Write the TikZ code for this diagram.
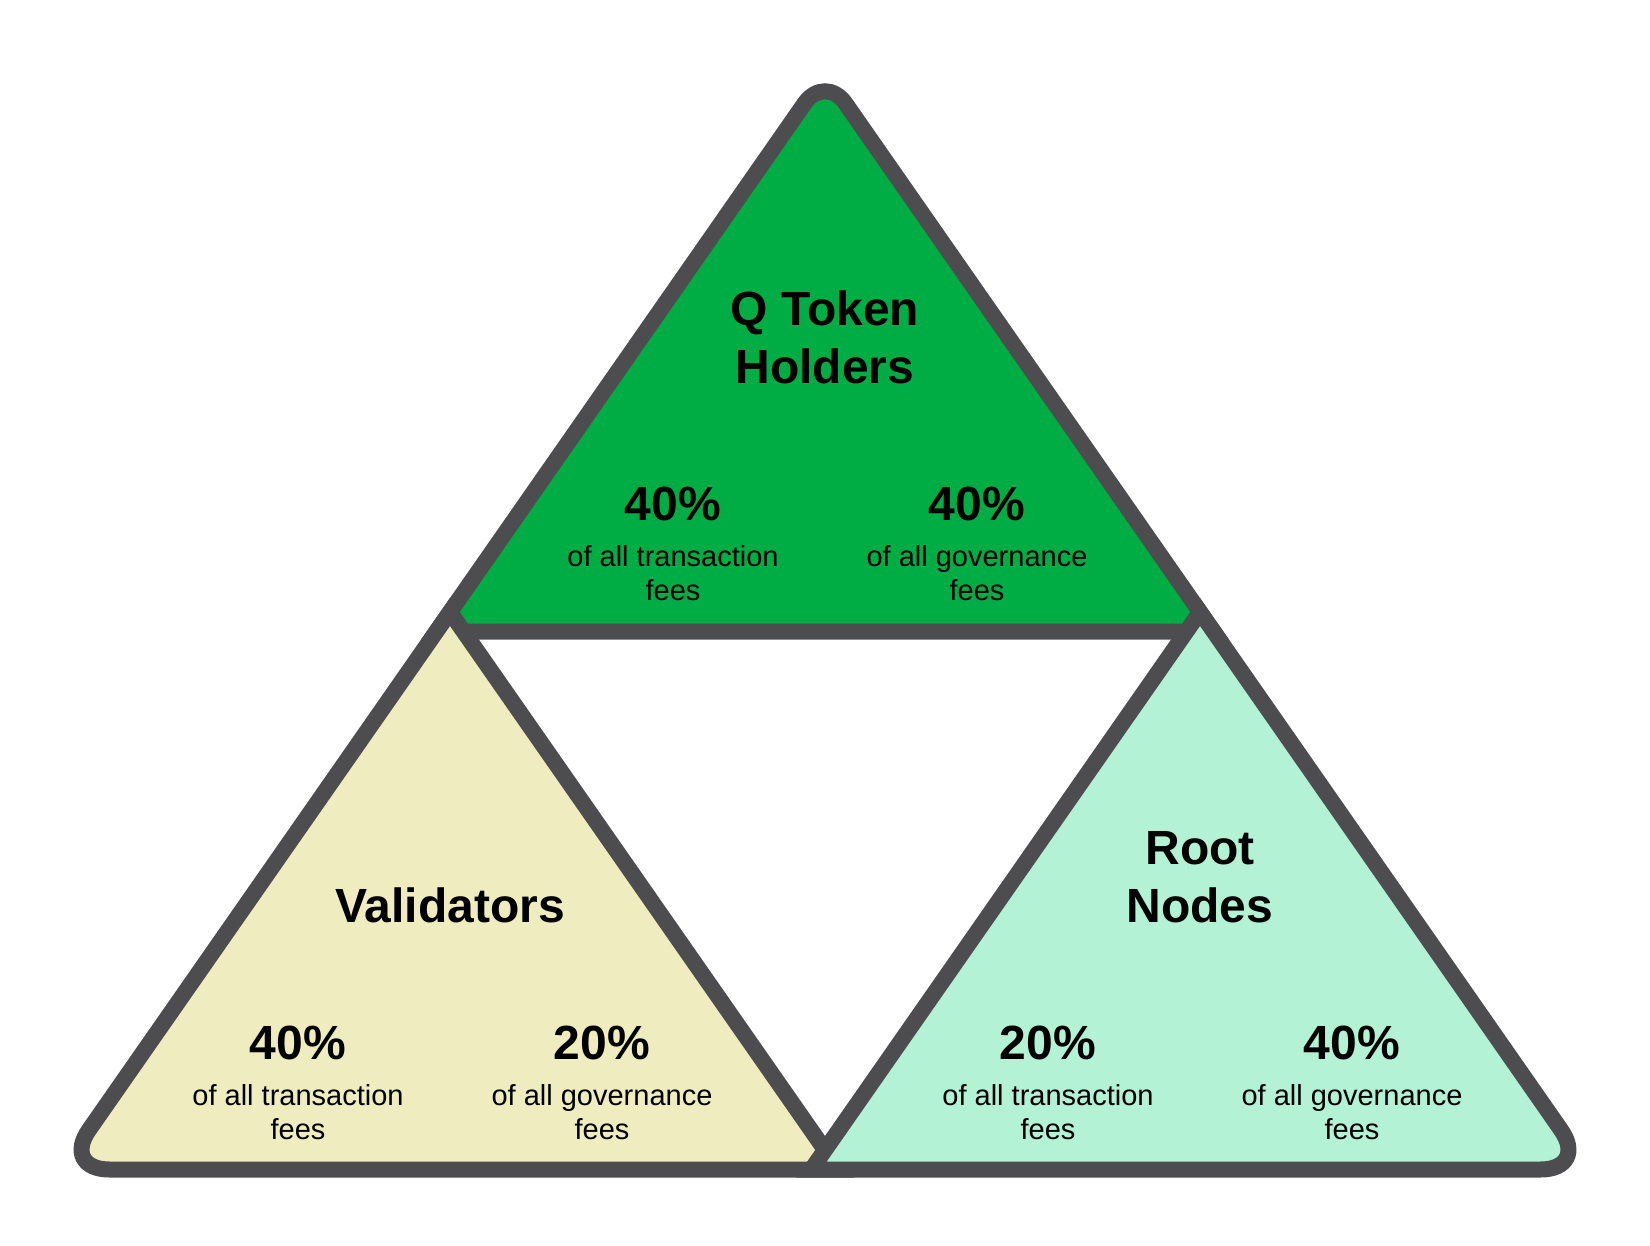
\documentclass[tikz,border=0pt]{standalone}
\usepackage{fontspec}
\setmainfont{Liberation Sans}
\usetikzlibrary{positioning}
\definecolor{QGreen}{HTML}{00AD45}
\definecolor{QCream}{HTML}{EFEDC0}
\definecolor{QMint}{HTML}{B3F2D5}
\definecolor{QEdge}{HTML}{4D4D4F}
\tikzset{
qtri/.style={draw=QEdge, line width=8pt},
qtitle/.style={anchor=base, align=center, font=\fontsize{24}{29}\selectfont\bfseries},
qpct/.style={anchor=base, font=\fontsize{24}{28}\selectfont\bfseries},
qdesc/.style={anchor=base, align=center, font=\fontsize{14.5}{16.85}\selectfont}
}

\begin{document}
\begin{tikzpicture}[x=0.5pt, y=-0.5pt]
\useasboundingbox (0,0) rectangle (1650,1246);
% three share triangles, only the outer corners rounded
\filldraw[qtri, fill=QGreen] (825,631.5) -- (436.4,631.5) -- (630.7,352.75)
  [rounded corners=18pt] -- (825,74) -- (1019.3,352.75)
  [sharp corners] -- (1213.6,631.5) -- cycle;
\filldraw[qtri, fill=QCream] (450,612) -- (838.6,1169.5) -- (450,1169.5)
  [rounded corners=24pt] -- (61.4,1169.5) -- (255.7,890.75)
  [sharp corners] -- cycle;
\filldraw[qtri, fill=QMint] (1200,612) -- (1394.3,890.75)
  [rounded corners=24pt] -- (1588.6,1169.5) -- (1200,1169.5)
  [sharp corners] -- (811.4,1169.5) -- cycle;

\node[qtitle] (holders) at (825,384) {Q Token\\Holders};
\node[qtitle] (validators) at (450,922) {Validators};
\node[qtitle] (root) at (1200,922) {Root\\Nodes};

\node[qpct] (htx) at (673,520) {40\%};
\node[qpct] (hgov) at (977,520) {40\%};
\node[qpct] (vtx) at (298,1059) {40\%};
\node[qpct] (vgov) at (602,1059) {20\%};
\node[qpct] (rtx) at (1048,1059) {20\%};
\node[qpct] (rgov) at (1352,1059) {40\%};

\node[qdesc] (htxd) at (673,600.5) {of all transaction\\fees};
\node[qdesc] (hgovd) at (977,600.5) {of all governance\\fees};
\node[qdesc] (vtxd) at (298,1139) {of all transaction\\fees};
\node[qdesc] (vgovd) at (602,1139) {of all governance\\fees};
\node[qdesc] (rtxd) at (1048,1139) {of all transaction\\fees};
\node[qdesc] (rgovd) at (1352,1139) {of all governance\\fees};
\end{tikzpicture}
\end{document}
